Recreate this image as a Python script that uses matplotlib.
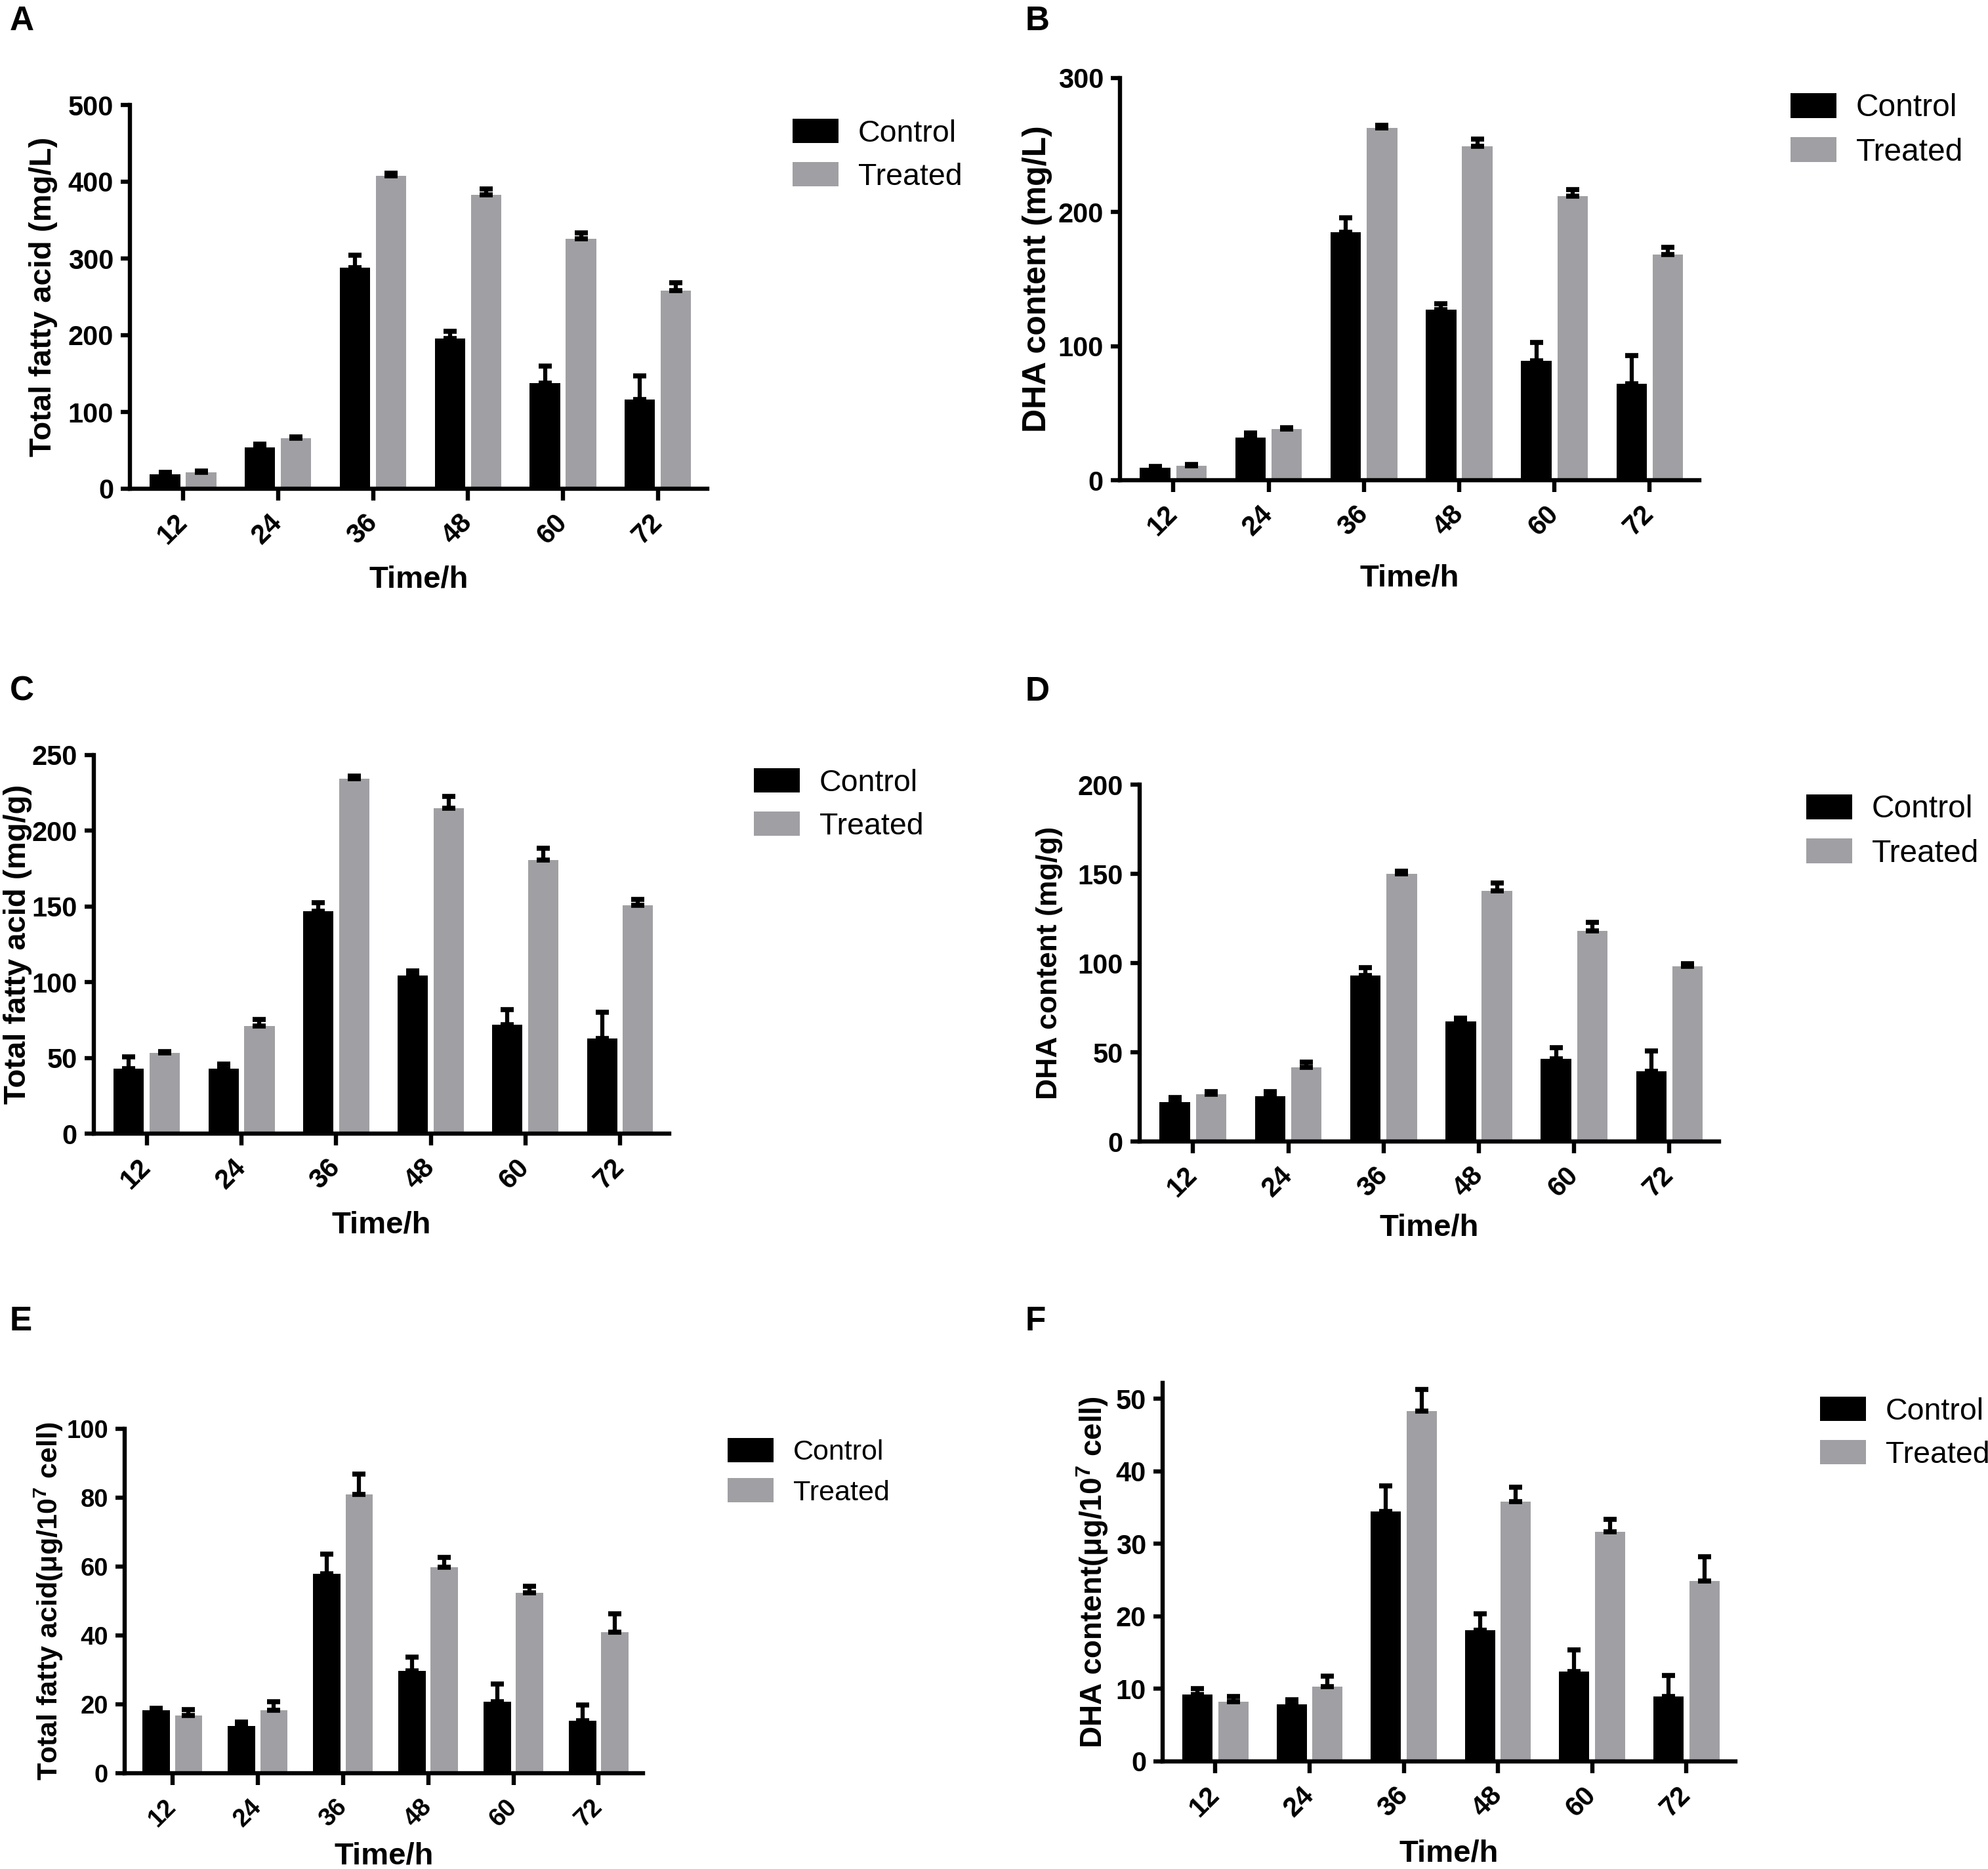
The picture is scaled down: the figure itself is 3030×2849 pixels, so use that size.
import numpy as np
import matplotlib
matplotlib.use("Agg")
import matplotlib.pyplot as plt
from matplotlib import font_manager

# ---------------- data ----------------
times = ['12', '24', '36', '48', '60', '72']
series_names = ['Control', 'Treated']

a_control = [19, 54, 288, 196, 138, 116]
a_control_err = [2, 4, 16, 9, 22, 31]
a_treated = [21.5, 66, 408, 383, 326, 258]
a_treated_err = [2, 1.5, 3, 8, 7, 10]

b_control = [9.5, 32, 185, 127, 89, 72]
b_control_err = [0.8, 3, 11, 4.6, 14, 21]
b_treated = [10.6, 38, 263, 249, 212, 168.5]
b_treated_err = [1, 1.2, 2, 5.5, 5, 5.2]

c_control = [43, 43, 147, 104.5, 72, 63]
c_control_err = [7.7, 3.1, 5.3, 2.8, 10, 17]
c_treated = [53.4, 71, 234.5, 214.7, 180.6, 150.6]
c_treated_err = [0.8, 4.5, 1.5, 8, 8, 4]

d_control = [22.2, 25.4, 93, 67.2, 46.3, 39.4]
d_control_err = [2.6, 2.6, 4.5, 1.8, 6.1, 11.5]
d_treated = [26.5, 41.4, 150, 140.3, 118.1, 98.3]
d_treated_err = [1.5, 3.2, 1.5, 4.7, 4.7, 1.5]

e_control = [18.2, 13.8, 57.9, 29.7, 20.8, 15.3]
e_control_err = [0.6, 1.1, 5.8, 4.1, 5.1, 4.6]
e_treated = [16.8, 18.2, 80.9, 59.9, 52.3, 40.9]
e_treated_err = [1.7, 2.6, 5.9, 2.7, 2.0, 5.4]

f_control = [9.25, 7.9, 34.5, 18.1, 12.4, 9.0]
f_control_err = [0.75, 0.6, 3.5, 2.3, 3.0, 2.85]
f_treated = [8.2, 10.3, 48.3, 35.8, 31.65, 24.9]
f_treated_err = [0.8, 1.5, 3.0, 2.0, 1.75, 3.3]

y_labels = ['Total fatty acid (mg/L)', 'DHA content (mg/L)',
            'Total fatty acid (mg/g)', 'DHA content (mg/g)',
            'Total fatty acid(\u03bcg/10$^{7}$ cell)',
            'DHA content(\u03bcg/10$^{7}$ cell)']
y_maxes = [500, 300, 250, 200, 100, 52.2]
y_steps = [100, 100, 50, 50, 20, 10]
y_tick_tops = [500, 300, 250, 200, 100, 50]
panel_letters = ['A', 'B', 'C', 'D', 'E', 'F']
x_label = 'Time/h'

# ---------------- style ----------------
W, H = 3030, 2849
DPI = 100
names = {f.name for f in font_manager.fontManager.ttflist}
narrow = 'Liberation Sans Narrow' if 'Liberation Sans Narrow' in names else 'Liberation Sans'
is_narrow = narrow == 'Liberation Sans Narrow'
tick_sizes = [30, 30, 30, 30, 27.5, 30] if not is_narrow else [33] * 6
xlabel_size = 40 if is_narrow else 34
plt.rcParams['font.family'] = ['Liberation Sans', 'DejaVu Sans']
plt.rcParams['mathtext.fontset'] = 'custom'
plt.rcParams['mathtext.rm'] = 'Liberation Sans:bold'
plt.rcParams['mathtext.it'] = 'Liberation Sans:bold'
plt.rcParams['mathtext.bf'] = 'Liberation Sans:bold'

control_color = '#000000'
treated_color = '#A0A0A4'

fig = plt.figure(figsize=(W / DPI, H / DPI), dpi=DPI)

def rect(l, r, t, b):
    return [l / W, 1 - b / H, (r - l) / W, (b - t) / H]

# layout in pixels: left, right, top, bottom
layouts = [(198, 1078, 160, 745), (1707, 2590, 119, 732),
           (143, 1020, 1151, 1728), (1737, 2620, 1196, 1740),
           (190, 980, 2178, 2703), (1772, 2645, 2108, 2685)]
ylabel_off = [132, 126, 116, 137, 116, 107]
ylabel_size = [34, 36, 34, 32, 31, 33]
xlabel_off = [138, 149, 140, 131, 127, 140]
legend_pos = [(1208, 188), (2729, 149), (1149, 1178), (2753, 1218), (1109, 2199), (2774, 2136)]
legend_size = [33.5, 34.5, 33.5, 34.5, 31, 33.5]
letter_pos = [(15, 8), (1563, 8), (15, 1030), (1563, 1030), (15, 1990), (1563, 1990)]

data = [(a_control, a_control_err, a_treated, a_treated_err),
        (b_control, b_control_err, b_treated, b_treated_err),
        (c_control, c_control_err, c_treated, c_treated_err),
        (d_control, d_control_err, d_treated, d_treated_err),
        (e_control, e_control_err, e_treated, e_treated_err),
        (f_control, f_control_err, f_treated, f_treated_err)]

bar_w = 0.32
gap = 0.06
x = np.arange(len(times))

for i in range(6):
    l, r, t, b = layouts[i]
    ax = fig.add_axes(rect(l, r, t, b))
    ctrl, ctrl_e, trt, trt_e = data[i]
    xc = x - (bar_w + gap) / 2
    xt = x + (bar_w + gap) / 2
    bc = ax.bar(xc, ctrl, width=bar_w, color=control_color, label=series_names[0], zorder=2)
    bt = ax.bar(xt, trt, width=bar_w, color=treated_color, label=series_names[1], zorder=2)
    for xs, vals, errs in ((xc, ctrl, ctrl_e), (xt, trt, trt_e)):
        ax.errorbar(xs, vals, yerr=[np.zeros(len(vals)), errs], fmt='none',
                    ecolor='black', elinewidth=4.5, capsize=7, capthick=5.5, zorder=3)
    ax.set_xlim(-0.56, 5.52)
    ax.set_ylim(0, y_maxes[i])
    ax.set_yticks(np.arange(0, y_tick_tops[i] + 0.001, y_steps[i]))
    ax.set_yticklabels([str(int(v)) for v in ax.get_yticks()],
                       fontfamily=narrow, fontweight='bold', fontsize=tick_sizes[i])
    ax.set_xticks(x)
    ax.set_xticklabels(times, rotation=45, ha='right', va='center', rotation_mode='anchor',
                       fontfamily=narrow, fontweight='bold', fontsize=tick_sizes[i])
    for s in ('top', 'right'):
        ax.spines[s].set_visible(False)
    for s in ('left', 'bottom'):
        ax.spines[s].set_linewidth(4.6)
    ax.tick_params(axis='y', length=10, width=4.6, pad=8)
    ax.tick_params(axis='x', length=13, width=4.6, pad=20)
    ax.set_ylabel(y_labels[i], fontsize=ylabel_size[i], fontweight='bold', va='center')
    ax.yaxis.set_label_coords(-ylabel_off[i] / (r - l), 0.5)
    ax.set_xlabel(x_label, fontsize=xlabel_size, fontweight='bold', fontfamily=narrow, va='center')
    ax.xaxis.set_label_coords(0.5, -xlabel_off[i] / (b - t))
    lx, ly = legend_pos[i]
    fs = legend_size[i]
    em = fs * DPI / 72.0
    ax.legend(handles=[bc, bt], loc='upper left',
              bbox_to_anchor=(lx / W, 1 - (ly - 7) / H), bbox_transform=fig.transFigure,
              frameon=False, borderpad=0, borderaxespad=0,
              handlelength=70 / em, handleheight=40 / em, handletextpad=30 / em,
              labelspacing=0.45, fontsize=fs)
    fig.text(letter_pos[i][0] / W, 1 - letter_pos[i][1] / H, panel_letters[i],
             fontsize=37, fontweight='bold', ha='left', va='top')

fig.savefig('out.png', dpi=DPI, facecolor='white')
